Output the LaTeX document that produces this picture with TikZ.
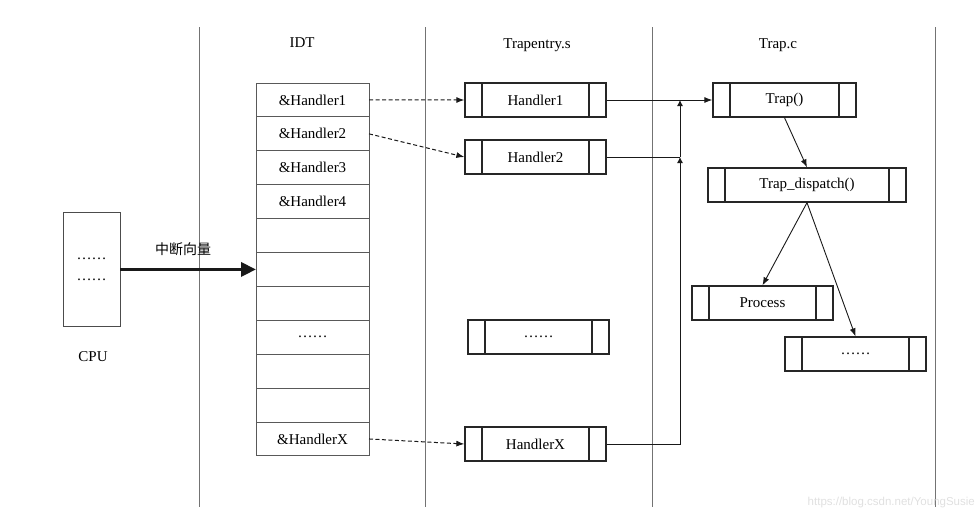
\documentclass[tikz,border=0pt]{standalone}
\usepackage{fontspec}
\setmainfont{Liberation Serif}
\newfontfamily\cjkfont{Noto Sans CJK SC}
\newfontfamily\wmfont{Liberation Sans}
\usetikzlibrary{arrows.meta,calc}

\tikzset{
  txt/.style={font=\fontsize{15}{18}\selectfont, inner sep=0pt},
  divider/.style={draw=black!55, line width=1pt},
  cell/.style={draw=black!65, line width=0.9pt, minimum width=113pt, minimum height=33.9pt,
    inner sep=0pt, outer sep=0pt, anchor=north, font=\fontsize{15}{18}\selectfont},
  fbox/.style={draw=black!85, line width=1.3pt, minimum height=34pt, inner sep=0pt,
    font=\fontsize{15}{18}\selectfont,
    path picture={
      \draw[black!85, line width=1.3pt]
        ([xshift=17pt]path picture bounding box.south west) -- ([xshift=17pt]path picture bounding box.north west)
        ([xshift=-17pt]path picture bounding box.south east) -- ([xshift=-17pt]path picture bounding box.north east);
    }},
  dasharrow/.style={draw=black!90, line width=1pt, dash pattern=on 4pt off 2.5pt, -{Latex[length=8pt,width=6pt]}},
  solidarrow/.style={draw=black!90, line width=0.9pt, -{Latex[length=8pt,width=6pt]}},
  smallarrow/.style={draw=black!90, line width=0.9pt, -{Latex[length=6pt,width=6pt]}},
}

\begin{document}
\begin{tikzpicture}[x=1pt, y=-1pt]
  \useasboundingbox (0,0) rectangle (978,509);

  % column dividers
  \coordinate (d1t) at (199,27);  \coordinate (d1b) at (199,507);
  \coordinate (d2t) at (425,27);  \coordinate (d2b) at (425,507);
  \coordinate (d3t) at (652,27);  \coordinate (d3b) at (652,507);
  \coordinate (d4t) at (935,27);  \coordinate (d4b) at (935,507);
  \draw[divider] (d1t) -- (d1b);
  \draw[divider] (d2t) -- (d2b);
  \draw[divider] (d3t) -- (d3b);
  \draw[divider] (d4t) -- (d4b);

  % titles
  \node[txt] (tidt) at (302,43) {IDT};
  \node[txt] (ttrs) at (537,45) {Trapentry.s};
  \node[txt] (ttrc) at (778,45) {Trap.c};

  % CPU
  \node[draw=black!70, line width=0.9pt, minimum width=57pt, minimum height=114pt, inner sep=0pt,
        align=center, font=\fontsize{15}{21}\selectfont] (cpu) at (91.5,269) {……\\……};
  \node[txt] (cpul) at (93,357) {CPU};

  % IDT table
  \node[cell] (r1)  at (312.5,83)      {\&Handler1};
  \node[cell] (r2)  at (r1.south)      {\&Handler2};
  \node[cell] (r3)  at (r2.south)      {\&Handler3};
  \node[cell] (r4)  at (r3.south)      {\&Handler4};
  \node[cell] (r5)  at (r4.south)      {};
  \node[cell] (r6)  at (r5.south)      {};
  \node[cell] (r7)  at (r6.south)      {};
  \node[cell] (r8)  at (r7.south)      {……};
  \node[cell] (r9)  at (r8.south)      {};
  \node[cell] (r10) at (r9.south)      {};
  \node[cell] (r11) at (r10.south)     {\&HandlerX};

  % interrupt vector arrow
  \draw[black!90, line width=3.5pt, -{Triangle[length=15pt,width=14pt]}] (cpu.east |- r6.west) -- (r6.west);
  \node[font=\cjkfont\fontsize{14}{16}\selectfont, inner sep=0pt] (zdxl) at (183,249) {中断向量};

  % Trapentry.s
  \node[fbox, minimum width=141pt] (h1) at (535.5,100) {Handler1};
  \node[fbox, minimum width=141pt] (h2) at (535.5,157) {Handler2};
  \node[fbox, minimum width=141pt] (hd) at (538.5,337) {……};
  \node[fbox, minimum width=141pt] (hx) at (535.5,444) {HandlerX};

  % Trap.c
  \node[fbox, minimum width=143pt] (trap) at (784.5,100) {Trap()};
  \node[fbox, minimum width=198pt] (disp) at (807,185) {Trap\_dispatch()};
  \node[fbox, minimum width=141pt] (proc) at (762.5,303) {Process};
  \node[fbox, minimum width=141pt] (rdot) at (855.5,354) {……};

  % dashed IDT -> handlers
  \draw[dasharrow] (r1.east) -- (h1.west);
  \draw[dasharrow] (r2.east) -- (h2.west);
  \draw[dasharrow] (r11.east) -- (hx.west);

  % handlers -> Trap()
  \coordinate (j1) at (680,100);
  \coordinate (j2) at (680,157);
  \draw[solidarrow] (h1.east) -- (trap.west);
  \draw[draw=black!90, line width=0.9pt] (h2.east) -- (j2);
  \draw[smallarrow] (hx.east) -| (j2);
  \draw[smallarrow] (j2) -- (j1);

  % Trap() -> dispatch -> targets
  \draw[solidarrow] (trap.south) -- (disp.north);
  \draw[solidarrow] (disp.south) -- (proc.north);
  \draw[solidarrow] (disp.south) -- (rdot.north);

  % watermark
  \node[anchor=base east, inner sep=0pt, text=black!12, font=\wmfont\fontsize{11.5}{13}\selectfont] (wm) at (975,505) {https://blog.csdn.net/YoungSusie};
\end{tikzpicture}
\end{document}
